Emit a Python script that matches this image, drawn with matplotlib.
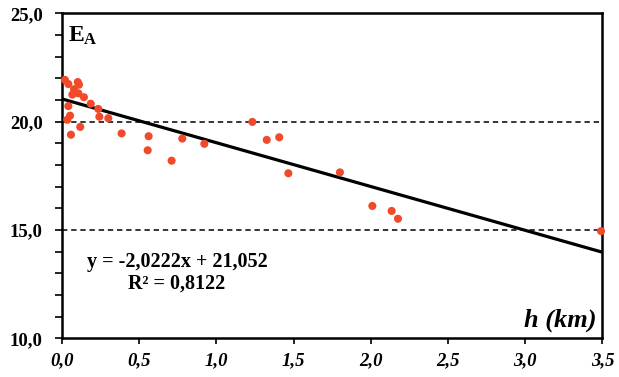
import matplotlib
matplotlib.use("Agg")
import matplotlib.pyplot as plt
from matplotlib.ticker import MultipleLocator, FuncFormatter

plt.rcParams['font.family'] = ['Liberation Serif', 'DejaVu Serif']
plt.rcParams['mathtext.fontset'] = 'custom'
plt.rcParams['mathtext.rm'] = 'Liberation Serif'
plt.rcParams['mathtext.bf'] = 'Liberation Serif:bold'

# Data (h in km, E_A values)
h_km = [0.019, 0.041, 0.102, 0.110, 0.078, 0.067, 0.106, 0.142, 0.186, 0.235,
        0.242, 0.300, 0.041, 0.052, 0.034, 0.118, 0.058, 0.386, 0.561, 0.555,
        0.779, 0.922, 0.710, 1.233, 1.326, 1.407, 1.466, 1.800, 2.010, 2.135,
        2.176, 3.491]
e_a = [21.93, 21.74, 21.83, 21.71, 21.50, 21.25, 21.31, 21.13, 20.83, 20.59,
       20.23, 20.16, 20.72, 20.28, 20.09, 19.76, 19.40, 19.46, 19.33, 18.68,
       19.22, 18.98, 18.20, 19.99, 19.16, 19.28, 17.62, 17.66, 16.11, 15.88,
       15.52, 14.95]

# Trend line coefficients (as printed)
slope = -2.0222
intercept = 21.052
trend_x = [0.0, 3.5]

x_ticks = [0.0, 0.5, 1.0, 1.5, 2.0, 2.5, 3.0, 3.5]
y_ticks = [10.0, 15.0, 20.0, 25.0]
grid_levels = [15.0, 20.0]

W, H = 619, 377
fig = plt.figure(figsize=(W / 100, H / 100), dpi=100)
ax = fig.add_axes([62 / W, (H - 338.3) / H, (602.4 - 62) / W, (338.3 - 13.4) / H])

ax.set_xlim(0, 3.5)
ax.set_ylim(10, 25)

for g in grid_levels:
    ax.axhline(g, color='black', lw=1.1, ls=(0, (3.5, 2.5)), zorder=1)

ax.scatter(h_km, e_a, s=34, color='#F04A2A', edgecolors='none', zorder=3, clip_on=False)
ax.plot(trend_x, [slope * x + intercept for x in trend_x], color='black', lw=2.3, zorder=2)

comma = FuncFormatter(lambda v, p: f"{v:.1f}".replace('.', ','))
ax.xaxis.set_major_locator(MultipleLocator(0.5))
ax.yaxis.set_major_locator(MultipleLocator(5))
ax.yaxis.set_minor_locator(MultipleLocator(1))
ax.xaxis.set_major_formatter(comma)
ax.yaxis.set_major_formatter(comma)
ax.set_xticks(x_ticks)
ax.set_yticks(y_ticks)

for s in ax.spines.values():
    s.set_linewidth(1.8)
    s.set_color('black')

ax.tick_params(axis='y', which='major', direction='out', length=5, width=1.2, pad=9,
               labelsize=13.5, colors='black')
ax.tick_params(axis='y', which='minor', direction='out', length=5, width=1.2)
ax.tick_params(axis='x', which='major', direction='out', length=4, width=1.2, pad=6,
               labelsize=13.5, colors='black')
for lab in ax.get_yticklabels():
    lab.set_fontweight('bold')
for lab in ax.get_xticklabels():
    lab.set_fontweight('bold')
    lab.set_fontstyle('italic')

ax.text(0.04, 23.68, r'$\mathbf{E_A}$', fontsize=17, color='black', ha='left', va='baseline')
ax.text(3.465, 10.52, 'h (km)', fontsize=19, fontweight='bold', fontstyle='italic',
        ha='right', va='baseline', color='black')
ax.text(0.745, 13.52, 'y = -2,0222x + 21,052', fontsize=14.5, fontweight='bold',
        ha='center', va='center', color='black')
ax.text(0.745, 12.51, 'R² = 0,8122', fontsize=14.5, fontweight='bold',
        ha='center', va='center', color='black')

fig.savefig('out.png', dpi=100)
